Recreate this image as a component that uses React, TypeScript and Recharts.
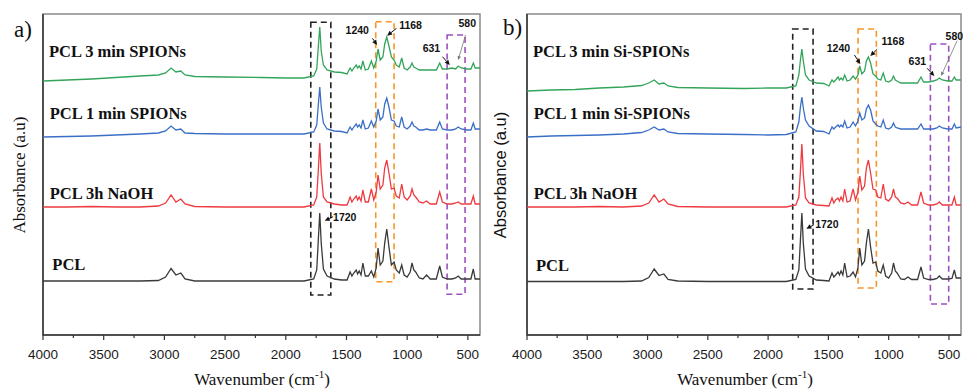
import React from "react";
import {
  LineChart,
  Line,
  XAxis,
  YAxis,
  ReferenceArea,
  ReferenceLine,
  ReferenceDot,
} from "recharts";

// shared wavenumber grid (cm-1), dense around the bands
const wavenumbers = [
  4000, 3800, 3600, 3400, 3200, 3050, 2990, 2945, 2905, 2865, 2830, 2750, 2500,
  2200, 2000, 1850, 1770, 1745, 1732, 1720, 1708, 1690, 1660, 1600, 1540, 1495,
  1470, 1455, 1440, 1420, 1408, 1395, 1380, 1365, 1345, 1320, 1295, 1275, 1255,
  1240, 1222, 1200, 1185, 1168, 1150, 1130, 1108, 1090, 1065, 1045, 1025, 1000,
  975, 960, 945, 930, 900, 870, 840, 810, 760, 732, 710, 670, 631, 600, 580, 555,
  510, 475, 455, 440, 400,
];

const xTicks = [4000, 3750, 3500, 3250, 3000, 2750, 2500, 2250, 2000, 1750, 1500, 1250, 1000, 750, 500];

// panel a (offset absorbance, a.u.)
const pclA = [
  0.54, 0.54, 0.54, 0.54, 0.54, 0.545, 0.58, 0.665, 0.6, 0.62, 0.56, 0.54, 0.54,
  0.54, 0.54, 0.54, 0.56, 0.65, 0.95, 1.22, 0.92, 0.66, 0.59, 0.56, 0.55, 0.55,
  0.63, 0.59, 0.62, 0.65, 0.61, 0.64, 0.6, 0.72, 0.59, 0.59, 0.64, 0.58, 0.67,
  0.87, 0.7, 0.74, 0.92, 1.06, 0.88, 0.7, 0.73, 0.65, 0.62, 0.7, 0.6, 0.58,
  0.63, 0.72, 0.65, 0.63, 0.57, 0.56, 0.6, 0.56, 0.56, 0.69, 0.58, 0.56, 0.56,
  0.57, 0.59, 0.56, 0.56, 0.56, 0.66, 0.56, 0.56,
];
const naohA = [
  1.28, 1.28, 1.285, 1.28, 1.28, 1.29, 1.32, 1.4, 1.33, 1.36, 1.31, 1.285, 1.28,
  1.28, 1.28, 1.28, 1.3, 1.38, 1.65, 1.92, 1.62, 1.38, 1.33, 1.31, 1.3, 1.3,
  1.38, 1.33, 1.36, 1.39, 1.35, 1.38, 1.34, 1.45, 1.33, 1.33, 1.46, 1.35, 1.43,
  1.6, 1.46, 1.5, 1.67, 1.75, 1.62, 1.46, 1.47, 1.39, 1.37, 1.51, 1.38, 1.35,
  1.39, 1.46, 1.4, 1.38, 1.33, 1.32, 1.34, 1.31, 1.31, 1.43, 1.33, 1.31, 1.31,
  1.32, 1.33, 1.31, 1.31, 1.31, 1.39, 1.31, 1.31,
];
const spion1A = [
  1.98, 1.985, 1.99, 2.0, 2.01, 2.02, 2.04, 2.09, 2.05, 2.06, 2.02, 2.015, 2.01,
  2.01, 2.01, 2.01, 2.03, 2.1, 2.3, 2.48, 2.28, 2.12, 2.06, 2.04, 2.035, 2.02,
  2.08, 2.05, 2.08, 2.11, 2.08, 2.1, 2.07, 2.15, 2.06, 2.07, 2.14, 2.08, 2.14,
  2.26, 2.15, 2.18, 2.31, 2.37, 2.28, 2.15, 2.14, 2.09, 2.08, 2.18, 2.08, 2.06,
  2.09, 2.13, 2.09, 2.08, 2.05, 2.05, 2.06, 2.05, 2.05, 2.13, 2.06, 2.05, 2.05,
  2.06, 2.08, 2.06, 2.05, 2.05, 2.12, 2.06, 2.06,
];
const spion3A = [
  2.54, 2.55, 2.56, 2.575, 2.59, 2.6, 2.62, 2.67, 2.63, 2.64, 2.6, 2.585, 2.58,
  2.575, 2.57, 2.57, 2.59, 2.66, 2.88, 3.08, 2.84, 2.7, 2.65, 2.63, 2.625, 2.61,
  2.67, 2.64, 2.67, 2.7, 2.67, 2.69, 2.66, 2.74, 2.65, 2.66, 2.74, 2.67, 2.74,
  2.86, 2.75, 2.78, 2.91, 2.98, 2.89, 2.78, 2.75, 2.7, 2.68, 2.77, 2.67, 2.65,
  2.68, 2.72, 2.68, 2.67, 2.65, 2.65, 2.65, 2.65, 2.65, 2.72, 2.66, 2.66, 2.67,
  2.66, 2.69, 2.67, 2.66, 2.66, 2.72, 2.67, 2.67,
];

// panel b
const pclB = [
  0.535, 0.535, 0.535, 0.535, 0.535, 0.54, 0.575, 0.66, 0.595, 0.61, 0.555, 0.54,
  0.535, 0.535, 0.535, 0.535, 0.555, 0.65, 0.95, 1.22, 0.92, 0.66, 0.59, 0.55,
  0.545, 0.54, 0.62, 0.58, 0.6, 0.63, 0.6, 0.64, 0.6, 0.72, 0.58, 0.59, 0.63,
  0.58, 0.67, 0.87, 0.7, 0.74, 0.92, 1.06, 0.88, 0.72, 0.73, 0.64, 0.62, 0.7,
  0.59, 0.57, 0.62, 0.72, 0.64, 0.62, 0.56, 0.555, 0.58, 0.555, 0.555, 0.68,
  0.57, 0.555, 0.555, 0.565, 0.59, 0.56, 0.56, 0.565, 0.65, 0.57, 0.57,
];
const naohB = [
  1.28, 1.28, 1.28, 1.285, 1.28, 1.29, 1.32, 1.4, 1.33, 1.36, 1.31, 1.285, 1.28,
  1.28, 1.28, 1.28, 1.3, 1.38, 1.64, 1.91, 1.61, 1.37, 1.32, 1.3, 1.295, 1.29,
  1.37, 1.32, 1.35, 1.37, 1.34, 1.38, 1.34, 1.46, 1.33, 1.34, 1.46, 1.35, 1.43,
  1.59, 1.45, 1.49, 1.67, 1.75, 1.62, 1.46, 1.45, 1.38, 1.37, 1.51, 1.36, 1.34,
  1.38, 1.46, 1.38, 1.37, 1.32, 1.31, 1.33, 1.3, 1.3, 1.43, 1.32, 1.3, 1.3,
  1.31, 1.33, 1.3, 1.3, 1.3, 1.38, 1.3, 1.3,
];
const siSpion1B = [
  1.98, 1.99, 1.995, 2.0, 2.01, 2.025, 2.05, 2.08, 2.05, 2.06, 2.03, 2.015, 2.01,
  2.005, 2.0, 2.005, 2.03, 2.13, 2.28, 2.38, 2.27, 2.15, 2.09, 2.04, 2.035, 2.01,
  2.08, 2.06, 2.08, 2.1, 2.08, 2.1, 2.08, 2.14, 2.07, 2.08, 2.13, 2.09, 2.14,
  2.22, 2.15, 2.17, 2.26, 2.3, 2.25, 2.14, 2.11, 2.09, 2.08, 2.15, 2.07, 2.06,
  2.08, 2.12, 2.08, 2.07, 2.06, 2.06, 2.06, 2.06, 2.06, 2.11, 2.06, 2.06, 2.06,
  2.07, 2.09, 2.07, 2.06, 2.06, 2.11, 2.07, 2.08,
];
const siSpion3B = [
  2.44, 2.45, 2.455, 2.47, 2.48, 2.495, 2.52, 2.55, 2.51, 2.52, 2.49, 2.475, 2.47,
  2.465, 2.47, 2.47, 2.49, 2.6, 2.75, 2.86, 2.74, 2.6, 2.55, 2.52, 2.515, 2.49,
  2.55, 2.53, 2.55, 2.58, 2.55, 2.57, 2.55, 2.6, 2.54, 2.55, 2.59, 2.56, 2.6,
  2.69, 2.61, 2.64, 2.74, 2.78, 2.72, 2.61, 2.59, 2.56, 2.55, 2.62, 2.54, 2.53,
  2.55, 2.59, 2.55, 2.54, 2.52, 2.52, 2.52, 2.52, 2.52, 2.58, 2.53, 2.53, 2.54,
  2.55, 2.57, 2.55, 2.54, 2.54, 2.58, 2.55, 2.55,
];

const seriesColors = ["#3a3a3a", "#ee3a40", "#3a6fc6", "#33a55a"];

const namesA = [
  { text: "PCL 3 min SPIONs", wn: 3951, a: 2.777 },
  { text: "PCL 1 min SPIONs", wn: 3945, a: 2.157 },
  { text: "PCL 3h NaOH", wn: 3945, a: 1.357 },
  { text: "PCL", wn: 3923, a: 0.65 },
];
const namesB = [
  { text: "PCL 3 min Si-SPIONs", wn: 3950, a: 2.777 },
  { text: "PCL 1 min Si-SPIONs", wn: 3945, a: 2.157 },
  { text: "PCL 3h NaOH", wn: 3945, a: 1.36 },
  { text: "PCL", wn: 3925, a: 0.643 },
];

const peaksA = [
  { text: "1240", wn: 1411, a: 3.05 },
  { text: "1168", wn: 972, a: 3.1 },
  { text: "631", wn: 800, a: 2.867 },
  { text: "580", wn: 505, a: 3.117 },
  { text: "1720", wn: 1514, a: 1.183 },
];
const peaksB = [
  { text: "1240", wn: 1417, a: 2.87 },
  { text: "1168", wn: 965, a: 2.94 },
  { text: "631", wn: 762, a: 2.74 },
  { text: "580", wn: 455, a: 2.99 },
  { text: "1720", wn: 1513, a: 1.107 },
];

const arrowsA = [
  { from: [1286, 2.967], to: [1248, 2.9], thin: false },
  { from: [1088, 3.067], to: [1165, 2.993], thin: false },
  { from: [709, 2.783], to: [649, 2.7], thin: false },
  { from: [519, 3.0], to: [580, 2.75], thin: true },
  { from: [1610, 1.183], to: [1679, 1.143], thin: false },
];
const arrowsB = [
  { from: [1284, 2.8], to: [1235, 2.71], thin: false },
  { from: [1096, 2.857], to: [1152, 2.79], thin: false },
  { from: [681, 2.667], to: [621, 2.59], thin: false },
  { from: [432, 2.943], to: [565, 2.59], thin: true },
  { from: [1622, 1.1], to: [1683, 1.063], thin: false },
];

const boxesA = [
  { x1: 1794, x2: 1629, y1: 0.4, y2: 3.127, color: "#222222" },
  { x1: 1259, x2: 1108, y1: 0.533, y2: 3.133, color: "#f7962a" },
  { x1: 671, x2: 523, y1: 0.407, y2: 3.0, color: "#9c50bf" },
];
const boxesB = [
  { x1: 1796, x2: 1627, y1: 0.46, y2: 3.06, color: "#222222" },
  { x1: 1254, x2: 1102, y1: 0.47, y2: 3.06, color: "#f7962a" },
  { x1: 654, x2: 502, y1: 0.31, y2: 2.91, color: "#9c50bf" },
];

const SERIF = "'Liberation Serif', 'Times New Roman', serif";
const SANS = "'Liberation Sans', Arial, sans-serif";

function WnTick(props: any) {
  const { x, y, payload } = props;
  const major = payload.value % 500 === 0;
  return (
    <g>
      <line x1={x} y1={y} x2={x} y2={y + (major ? 5 : 3)} stroke="#333" strokeWidth={1.2} />
      {major && (
        <text
          x={x}
          y={y + 19}
          textAnchor="middle"
          dominantBaseline="central"
          fontSize={13.5}
          fontFamily={SANS}
          fill="#1a1a1a"
        >
          {payload.value}
        </text>
      )}
    </g>
  );
}

function arrowShape(thin: boolean) {
  return (p: any) => {
    const { x1, y1, x2, y2 } = p;
    const color = thin ? "#777" : "#111";
    const head = thin ? 4 : 5;
    const ang = Math.atan2(y2 - y1, x2 - x1);
    const hx = x2 - head * Math.cos(ang);
    const hy = y2 - head * Math.sin(ang);
    const w = thin ? 1.8 : 2.4;
    const px = -Math.sin(ang) * w;
    const py = Math.cos(ang) * w;
    return (
      <g>
        <line x1={x1} y1={y1} x2={hx} y2={hy} stroke={color} strokeWidth={thin ? 0.8 : 1} />
        <polygon points={`${x2},${y2} ${hx + px},${hy + py} ${hx - px},${hy - py}`} fill={color} />
      </g>
    );
  };
}

function Panel(props: any) {
  const { left, width, marginLeft, series, names, peaks, arrows, boxes } = props;
  const rows = wavenumbers.map((wn, i) => {
    const r: any = { wn };
    series.forEach((s: number[], k: number) => (r["s" + k] = s[i]));
    return r;
  });
  return (
    <div style={{ position: "absolute", left, top: 0 }}>
      <LineChart width={width} height={390} data={rows} margin={{ top: 14, right: 2, bottom: 0, left: marginLeft }}>
        <XAxis
          dataKey="wn"
          type="number"
          domain={[400, 4000]}
          reversed
          allowDataOverflow
          ticks={xTicks}
          interval={0}
          tick={(p: any) => <WnTick {...p} />}
          tickLine={false}
          tickSize={0}
          tickMargin={0}
          height={55}
          axisLine={{ stroke: "#333", strokeWidth: 1.5 }}
        />
        <YAxis type="number" domain={[0, 3.21]} hide allowDataOverflow />
        <ReferenceArea x1={4000} x2={400} y1={0} y2={3.21} fill="none" stroke="#8a8a8a" strokeWidth={1.5} />
        <ReferenceLine x={4000} stroke="#333" strokeWidth={1.5} />
        {series.map((_: number[], k: number) => (
          <Line
            key={k}
            dataKey={"s" + k}
            type="linear"
            stroke={seriesColors[k]}
            strokeWidth={1.3}
            dot={false}
            activeDot={false}
            isAnimationActive={false}
          />
        ))}
        {boxes.map((b: any, i: number) => (
          <ReferenceArea
            key={"b" + i}
            x1={b.x1}
            x2={b.x2}
            y1={b.y1}
            y2={b.y2}
            fill="none"
            stroke={b.color}
            strokeWidth={1.6}
            strokeDasharray="6 4"
          />
        ))}
        {arrows.map((a: any, i: number) => (
          <ReferenceLine
            key={"a" + i}
            segment={[
              { x: a.from[0], y: a.from[1] },
              { x: a.to[0], y: a.to[1] },
            ]}
            shape={arrowShape(a.thin)}
          />
        ))}
        {peaks.map((pk: any, i: number) => (
          <ReferenceDot
            key={"p" + i}
            x={pk.wn}
            y={pk.a}
            r={0}
            shape={(p: any) => (
              <text
                x={p.cx}
                y={p.cy}
                textAnchor="middle"
                dominantBaseline="central"
                fontSize={10.5}
                fontWeight="bold"
                fontFamily={SANS}
                fill="#111"
              >
                {pk.text}
              </text>
            )}
          />
        ))}
        {names.map((n: any, i: number) => (
          <ReferenceDot
            key={"n" + i}
            x={n.wn}
            y={n.a}
            r={0}
            shape={(p: any) => (
              <text x={p.cx} y={p.cy} fontSize={16.5} fontWeight="bold" fontFamily={SERIF} fill="#111">
                {n.text}
              </text>
            )}
          />
        ))}
      </LineChart>
    </div>
  );
}

export default function App() {
  return (
    <div
      style={{
        position: "absolute",
        left: 0,
        top: 0,
        width: 963,
        height: 390,
        background: "#fff",
        overflow: "hidden",
      }}
    >
      <Panel
        left={0}
        width={482}
        marginLeft={43}
        series={[pclA, naohA, spion1A, spion3A]}
        names={namesA}
        peaks={peaksA}
        arrows={arrowsA}
        boxes={boxesA}
      />
      <Panel
        left={482}
        width={481}
        marginLeft={45}
        series={[pclB, naohB, siSpion1B, siSpion3B]}
        names={namesB}
        peaks={peaksB}
        arrows={arrowsB}
        boxes={boxesB}
      />
      <svg
        width={963}
        height={390}
        style={{ position: "absolute", left: 0, top: 0, pointerEvents: "none" }}
      >
        <text x={14} y={37} fontSize={23} fontFamily={SERIF} fill="#111">
          a)
        </text>
        <text x={503} y={35} fontSize={23} fontFamily={SERIF} fill="#111">
          b)
        </text>
        <text x={262} y={385} textAnchor="middle" fontSize={17} fontFamily={SERIF} fill="#111">
          Wavenumber (cm
          <tspan fontSize={11} dy={-7}>
            -1
          </tspan>
          <tspan dy={7}>)</tspan>
        </text>
        <text x={745} y={385} textAnchor="middle" fontSize={17} fontFamily={SERIF} fill="#111">
          Wavenumber (cm
          <tspan fontSize={11} dy={-7}>
            -1
          </tspan>
          <tspan dy={7}>)</tspan>
        </text>
        <text
          x={19}
          y={175}
          transform="rotate(-90 19 175)"
          textAnchor="middle"
          dominantBaseline="central"
          fontSize={17}
          fontFamily={SERIF}
          fill="#111"
        >
          Absorbance (a.u)
        </text>
        <text
          x={500}
          y={175}
          transform="rotate(-90 500 175)"
          textAnchor="middle"
          dominantBaseline="central"
          fontSize={16.5}
          fontFamily={SANS}
          fill="#111"
        >
          Absorbance (a.u)
        </text>
      </svg>
    </div>
  );
}
